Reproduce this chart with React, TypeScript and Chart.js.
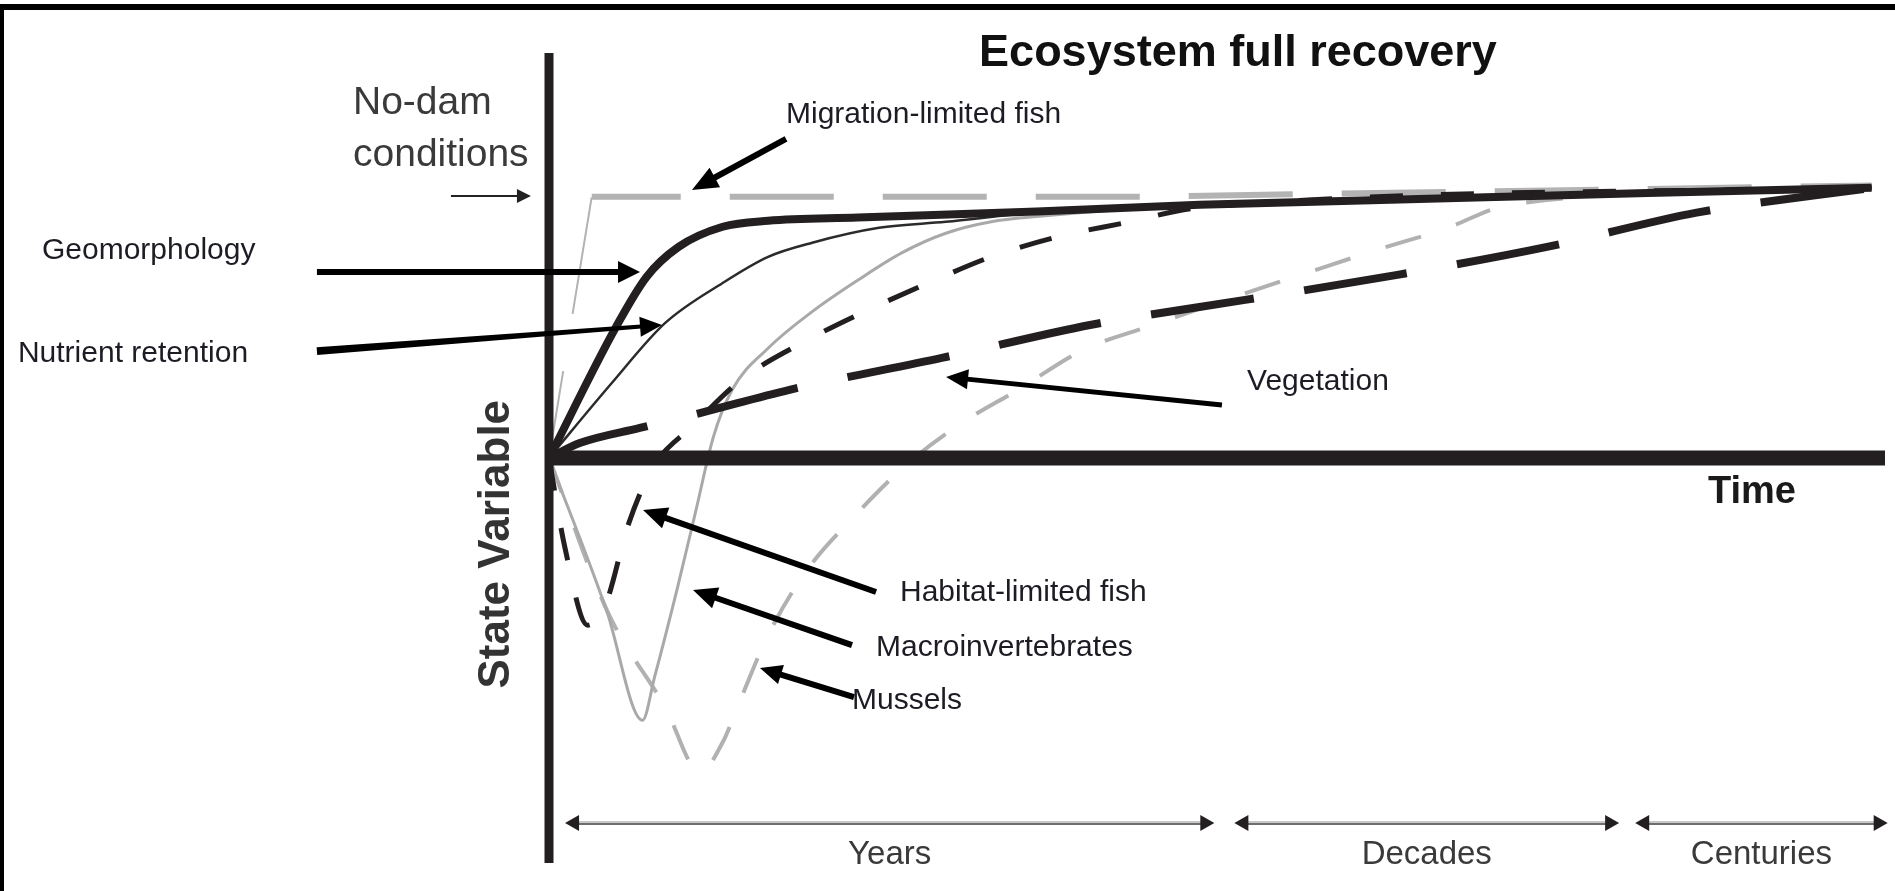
import { useEffect, useRef } from "react";
import { Chart, registerables } from "chart.js";

Chart.register(...registerables);

// ---- axes extents (time in arbitrary units 0..100, state variable -155..155, no-dam level = 100)
const timeMax = 100;
const stateMin = -155;
const stateMax = 155;

const stateAxisTime = [0, 0];
const stateAxisState = [stateMin, stateMax];
const timeAxisTime = [0, timeMax];
const timeAxisState = [0, 0];

// ---- recovery trajectories
const geomorphologyTime = [0, 5, 7.3, 9.7, 13, 16.4, 23.1, 36.5, 48.7, 99];
const geomorphologyState = [0, 50, 69.3, 80.8, 88.5, 90.8, 92, 94.3, 96.9, 103.4];

const nutrientTime = [0, 4.7, 8.7, 13, 16.4, 19.7, 24.7, 29.7, 36.5, 48.7, 99];
const nutrientState = [0, 28.7, 51.7, 67, 77, 82.4, 88.1, 90.4, 94, 96.9, 103.4];

const vegetationTime = [0, 2.3, 6.8, 11.3, 18, 29.4, 40.6, 52.1, 63.5, 74.7, 85.9, 99];
const vegetationState = [0, 5.7, 11.5, 17.2, 26.1, 38.3, 51, 60.5, 70.1, 80.8, 93.9, 103.4];

const habitatFishTime = [0, 1.2, 2.9, 4.3, 5.9, 7.8, 10.7, 14.4, 19.1, 23.6, 28.4, 33.1, 38.1, 43.1, 48.7, 99];
const habitatFishState = [0, -34.5, -64, -55, -26, -3.4, 12, 30, 44.5, 56, 67, 77, 84.7, 90, 95.8, 103.4];

const macroTime = [0, 4.3, 7.0, 7.9, 9.6, 11.0, 12.3, 13.7, 16.4, 19.7, 23.1, 26.4, 29.7, 33.1, 36.5, 48.7, 99];
const macroState = [0, -58.2, -100.4, -83.9, -50, -20, 8, 26, 42, 56, 68, 78.5, 86, 90.4, 92.4, 96.9, 103.4];

const musselsTime = [0, 4.4, 8.7, 11.3, 13.0, 14.1, 16.4, 19.2, 22.8, 26.9, 30.9, 35.1, 40.0, 44.8, 52.2, 57.0, 62.0, 66.9, 72.0, 99];
const musselsState = [0, -59, -95.4, -120.3, -108.8, -95.4, -67.8, -43.7, -22.6, -1.9, 13.4, 26.1, 41.4, 50.2, 63.2, 71.3, 79.7, 87.4, 97, 103.4];

const migrationFishTime = [0, 3.2, 44.3, 99];
const migrationFishState = [0, 100, 100, 104.3];

// ---- pointer labels and their arrows (data units)
const pointerLabels = [
  "Migration-limited fish",
  "Geomorphology",
  "Nutrient retention",
  "Vegetation",
  "Habitat-limited fish",
  "Macroinvertebrates",
  "Mussels",
];
const labelTime = [17.74, -37.95, -39.75, 52.25, 26.27, 24.48, 22.68];
const labelState = [131.3, 79.2, 39.8, 29.1, -51.7, -72.7, -93.0];
const arrowFromTime = [17.74, -17.37, -17.37, 50.37, 24.48, 22.68, 22.83];
const arrowFromState = [122.1, 71.2, 40.9, 20.3, -51.3, -71.6, -91.5];
const arrowToTime = [10.7, 6.81, 8.46, 29.72, 7.04, 10.78, 15.79];
const arrowToState = [102.6, 71.2, 50.9, 31.0, -19.9, -50.5, -80.4];

// ---- no-dam marker
const noDamLines = ["No-dam", "conditions"];
const noDamTextTime = [-14.67, -14.67];
const noDamTextState = [135.9, 116.0];
const noDamArrowTime = [-7.34, -1.35];
const noDamArrowState = [100.3, 100.3];

// ---- time spans
const spanLabels = ["Years", "Decades", "Centuries"];
const spanStart = [1.2, 51.3, 81.3];
const spanEnd = [49.8, 80.1, 100.2];
const spanLevel = -139.7;
const spanLabelLevel = -151.9;

// ---- titles
const titleText = "Ecosystem full recovery";
const titleTime = 51.57;
const titleState = 154.6;
const timeLabel = "Time";
const timeLabelTime = 86.75;
const timeLabelState = -13.4;
const stateLabel = "State Variable";
const stateLabelTime = -3.9;
const stateLabelState = -33.0;

const series = (xs: number[], ys: number[]) => xs.map((x, i) => ({ x, y: ys[i] }));

const FONT = '"Liberation Sans", Arial, Helvetica, sans-serif';
const INK = "#231f20";

function drawPointer(
  ctx: CanvasRenderingContext2D,
  x0: number, y0: number, x1: number, y1: number,
  tailW: number, neckW: number, headLen: number, headHalf: number, color: string
) {
  const ang = Math.atan2(y1 - y0, x1 - x0);
  const len = Math.hypot(x1 - x0, y1 - y0);
  const base = len - headLen;
  ctx.save();
  ctx.translate(x0, y0);
  ctx.rotate(ang);
  ctx.fillStyle = color;
  ctx.beginPath();
  ctx.moveTo(0, -tailW / 2);
  ctx.lineTo(base + 1, -neckW / 2);
  ctx.lineTo(base + 1, neckW / 2);
  ctx.lineTo(0, tailW / 2);
  ctx.closePath();
  ctx.fill();
  ctx.beginPath();
  ctx.moveTo(len, 0);
  ctx.lineTo(base, -headHalf);
  ctx.lineTo(base, headHalf);
  ctx.closePath();
  ctx.fill();
  ctx.restore();
}

const pointerStyles = [
  { tail: 6, neck: 6, head: 26, half: 11 },
  { tail: 6, neck: 6, head: 22, half: 11 },
  { tail: 8, neck: 4, head: 22, half: 10 },
  { tail: 5, neck: 5, head: 22, half: 10 },
  { tail: 6, neck: 6, head: 24, half: 11 },
  { tail: 6, neck: 6, head: 24, half: 11 },
  { tail: 6, neck: 6, head: 22, half: 10 },
];

const diagramPlugin = {
  id: "diagramPlugin",
  beforeDraw(chart: any) {
    const { ctx, width, height } = chart;
    ctx.save();
    ctx.fillStyle = "#000";
    ctx.fillRect(0, 4, width, 6);
    ctx.fillRect(0, 4, 4, height - 4);
    ctx.restore();
  },
  afterDatasetsDraw(chart: any) {
    const { ctx } = chart;
    const sx = chart.scales.x;
    const sy = chart.scales.y;
    const px = (v: number) => sx.getPixelForValue(v);
    const py = (v: number) => sy.getPixelForValue(v);
    ctx.save();

    // pointer arrows
    pointerLabels.forEach((_, i) => {
      const s = pointerStyles[i];
      drawPointer(ctx, px(arrowFromTime[i]), py(arrowFromState[i]), px(arrowToTime[i]), py(arrowToState[i]),
        s.tail, s.neck, s.head, s.half, "#000");
    });
    // no-dam arrow
    drawPointer(ctx, px(noDamArrowTime[0]), py(noDamArrowState[0]), px(noDamArrowTime[1]), py(noDamArrowState[1]),
      2, 2, 14, 7, "#222");

    // span arrows
    spanLabels.forEach((_, i) => {
      const a = px(spanStart[i]);
      const b = px(spanEnd[i]);
      const yy = py(spanLevel);
      ctx.strokeStyle = "#c8c8c8";
      ctx.lineWidth = 4;
      ctx.beginPath();
      ctx.moveTo(a + 10, yy);
      ctx.lineTo(b - 10, yy);
      ctx.stroke();
      ctx.strokeStyle = "#6e6e6e";
      ctx.lineWidth = 2;
      ctx.beginPath();
      ctx.moveTo(a + 10, yy + 1);
      ctx.lineTo(b - 10, yy + 1);
      ctx.stroke();
      ctx.fillStyle = "#231f20";
      ctx.beginPath();
      ctx.moveTo(a, yy);
      ctx.lineTo(a + 14, yy - 8);
      ctx.lineTo(a + 14, yy + 8);
      ctx.closePath();
      ctx.fill();
      ctx.beginPath();
      ctx.moveTo(b, yy);
      ctx.lineTo(b - 14, yy - 8);
      ctx.lineTo(b - 14, yy + 8);
      ctx.closePath();
      ctx.fill();
    });

    // texts
    ctx.textBaseline = "middle";
    ctx.fillStyle = "#1c1c24";
    ctx.font = `30px ${FONT}`;
    ctx.textAlign = "left";
    pointerLabels.forEach((t, i) => ctx.fillText(t, px(labelTime[i]), py(labelState[i])));

    ctx.fillStyle = "#3a3a3a";
    ctx.font = `39px ${FONT}`;
    noDamLines.forEach((t, i) => ctx.fillText(t, px(noDamTextTime[i]), py(noDamTextState[i])));

    ctx.font = `33px ${FONT}`;
    ctx.textAlign = "center";
    spanLabels.forEach((t, i) => ctx.fillText(t, px((spanStart[i] + spanEnd[i]) / 2), py(spanLabelLevel)));

    ctx.fillStyle = "#111";
    ctx.font = `bold 45px ${FONT}`;
    ctx.fillText(titleText, px(titleTime), py(titleState));

    ctx.fillStyle = "#1a1a1a";
    ctx.font = `bold 38px ${FONT}`;
    ctx.textAlign = "left";
    ctx.fillText(timeLabel, px(timeLabelTime), py(timeLabelState));

    ctx.save();
    ctx.translate(px(stateLabelTime), py(stateLabelState));
    ctx.rotate(-Math.PI / 2);
    ctx.textAlign = "center";
    ctx.fillStyle = "#333";
    ctx.font = `bold 44px ${FONT}`;
    ctx.fillText(stateLabel, 0, 0);
    ctx.restore();

    ctx.restore();
  },
};

export default function App() {
  const ref = useRef<HTMLCanvasElement>(null);
  useEffect(() => {
    document.body.style.margin = "0";
    const canvas = ref.current;
    if (!canvas) return;
    const common = { pointRadius: 0, clip: false as any, fill: false, borderCapStyle: "butt" as const, borderJoinStyle: "round" as const };
    const chart = new Chart(canvas, {
      type: "line",
      data: {
        datasets: [
          { label: "State axis", data: series(stateAxisTime, stateAxisState), borderColor: INK, borderWidth: 9, tension: 0, ...common },
          { label: "Time axis", data: series(timeAxisTime, timeAxisState), borderColor: INK, borderWidth: 15, tension: 0, ...common },
          { label: "Geomorphology", data: series(geomorphologyTime, geomorphologyState), borderColor: INK, borderWidth: 8, cubicInterpolationMode: "monotone", ...common },
          { label: "Nutrient retention", data: series(nutrientTime, nutrientState), borderColor: "#2b2b2b", borderWidth: 2.5, cubicInterpolationMode: "monotone", ...common },
          { label: "Vegetation", data: series(vegetationTime, vegetationState), borderColor: INK, borderWidth: 8, borderDash: [104, 51], cubicInterpolationMode: "monotone", ...common },
          { label: "Habitat-limited fish", data: series(habitatFishTime, habitatFishState), borderColor: INK, borderWidth: 5, borderDash: [33, 38], cubicInterpolationMode: "monotone", ...common },
          { label: "Macroinvertebrates", data: series(macroTime, macroState), borderColor: "#a9a9a9", borderWidth: 3, cubicInterpolationMode: "monotone", ...common },
          {
            label: "Migration-limited fish", data: series(migrationFishTime, migrationFishState), borderColor: "#b3b3b3", borderWidth: 6,
            borderDash: [104, 49], borderDashOffset: 15, tension: 0, ...common,
            segment: {
              borderWidth: (c: any) => (c.p0DataIndex === 0 ? 2 : undefined),
              borderDash: (c: any) => (c.p0DataIndex === 0 ? [118, 58] : undefined),
              borderDashOffset: (c: any) => (c.p0DataIndex === 0 ? 30 : undefined),
            },
          },
          { label: "Mussels", data: series(musselsTime, musselsState), borderColor: "#b1b1b1", borderWidth: 4, borderDash: [37, 37], cubicInterpolationMode: "monotone", ...common },
        ] as any,
      },
      options: {
        responsive: false,
        animation: false,
        events: [],
        layout: { padding: { left: 549, right: 10, top: 53, bottom: 28 } },
        plugins: { legend: { display: false }, tooltip: { enabled: false }, title: { display: false } },
        scales: {
          x: { type: "linear", min: 0, max: timeMax, display: false },
          y: { type: "linear", min: stateMin, max: stateMax, display: false },
        },
      },
      plugins: [diagramPlugin],
    });
    return () => chart.destroy();
  }, []);
  return <canvas ref={ref} width={1895} height={891} style={{ display: "block" }} />;
}
